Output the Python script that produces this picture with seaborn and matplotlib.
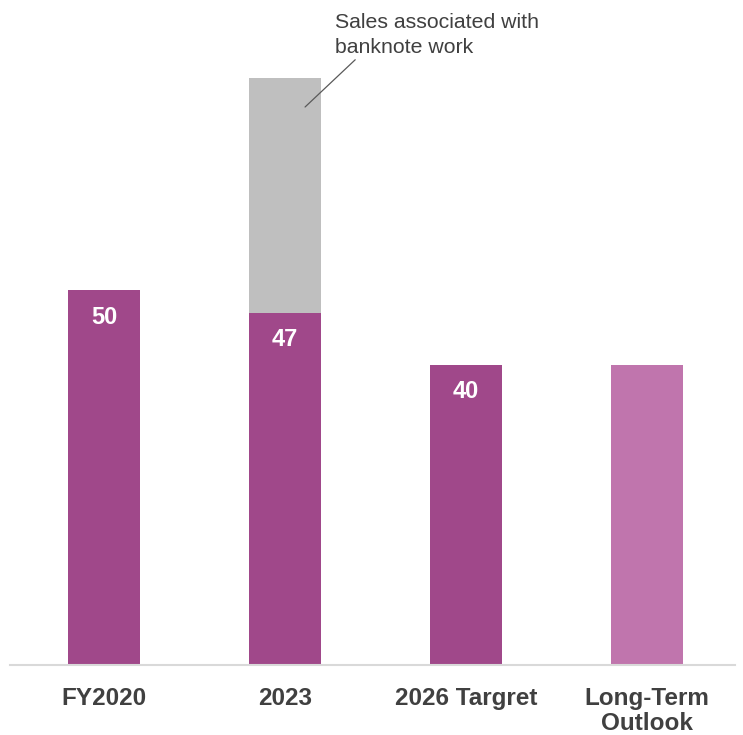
import matplotlib
matplotlib.use("Agg")
import matplotlib.pyplot as plt
import seaborn as sns
import pandas as pd

# Sales figures by period
categories = ["FY2020", "2023", "2026 Targret", "Long-Term\nOutlook"]
core_sales = [50, 47, 40, 40]
banknote_sales = [0, 31.3, 0, 0]
value_labels = ["50", "47", "40", ""]
bar_colors = ["#A0488A", "#A0488A", "#A0488A", "#C075AD"]
banknote_color = "#BFBFBF"

sns.set_theme(style="white")
plt.rcParams["font.family"] = ["Liberation Sans", "DejaVu Sans"]

df = pd.DataFrame({
    "category": categories,
    "core": core_sales,
    "total": [c + b for c, b in zip(core_sales, banknote_sales)],
})

fig = plt.figure(figsize=(7.43, 7.35), dpi=100)
ax = fig.add_axes([10 / 743, 70 / 735, 725 / 743, 600 / 735])

# Stacked look: total bar in gray, core segment drawn on top
sns.barplot(data=df, x="category", y="total", color=banknote_color,
            width=0.4, ax=ax, saturation=1, linewidth=0)
sns.barplot(data=df, x="category", y="core", hue="category",
            palette=bar_colors, width=0.4, ax=ax, saturation=1,
            linewidth=0, legend=False)

for i, (v, lab) in enumerate(zip(core_sales, value_labels)):
    if lab:
        ax.text(i, v - 3.6, lab, ha="center", va="center", color="white",
                fontsize=17, fontweight="bold")

# Callout for the banknote segment
ax.annotate("", xy=(1.11, 74.4), xytext=(1.387, 80.7), textcoords="data",
            annotation_clip=False,
            arrowprops=dict(arrowstyle="-", color="#595959", lw=0.9,
                            shrinkA=0, shrinkB=0))
ax.text(1.276, 87.0, "Sales associated with\nbanknote work",
        ha="left", va="top", fontsize=15.3, color="#404040",
        linespacing=1.42, clip_on=False)

ax.set_xlim(-0.52, 3.485)
ax.set_ylim(0, 80)
ax.set_xlabel("")
ax.set_ylabel("")
ax.set_yticks([])
ax.tick_params(axis="x", length=0, pad=16)
for lbl in ax.get_xticklabels():
    lbl.set_fontsize(17.5)
    lbl.set_fontweight("bold")
    lbl.set_color("#404040")
    lbl.set_linespacing(1.08)

for side in ["top", "left", "right"]:
    ax.spines[side].set_visible(False)
ax.spines["bottom"].set_color("#D9D9D9")
ax.spines["bottom"].set_linewidth(1.5)

fig.savefig("out.png", dpi=100, facecolor="white")
